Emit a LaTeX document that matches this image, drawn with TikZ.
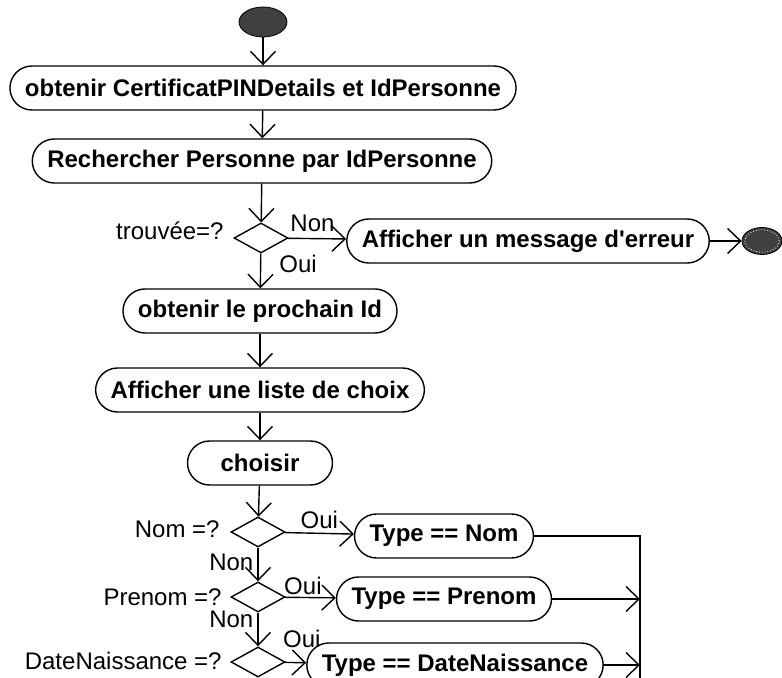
\documentclass[tikz,border=0pt]{standalone}
\usepackage{fontspec}
\setmainfont{Liberation Sans}
\usetikzlibrary{shapes.geometric, arrows.meta}
\tikzset{
action/.style={draw, line width=0.7pt, rounded corners=11pt, minimum height=22pt, inner xsep=7.5pt, font=\bfseries\fontsize{12}{14}\selectfont},
decision/.style={draw, diamond, line width=0.7pt, minimum width=27pt, minimum height=15pt, inner sep=0pt},
startnode/.style={draw, ellipse, fill=black!75, minimum width=24pt, minimum height=15pt, inner sep=0pt},
endnode/.style={draw, ellipse, fill=black!75, minimum width=20pt, minimum height=13.5pt, inner sep=0pt},
lbl/.style={font=\fontsize{12}{14}\selectfont, inner sep=1pt},
flow/.style={line width=0.7pt, -{Straight Barb[length=6.5pt,width=12.5pt]}}
}

\begin{document}
\begin{tikzpicture}[x=0.5pt, y=-0.5pt]
\useasboundingbox (0,0) rectangle (782,678);
\clip (0,0) rectangle (782,678);

\node[startnode] (start) at (263,22) {};
\node[action] (obtenir) at (263,88) {obtenir CertificatPINDetails et IdPersonne};
\node[action] (rechercher) at (262,161) {Rechercher Personne par IdPersonne};
\node[decision] (trouvee) at (261,238) {};
\node[lbl, anchor=east] (ltrouvee) at (226,231) {trouvée=?};
\node[action] (erreur) at (528,241) {Afficher un message d\textquotesingle erreur};
\node[endnode] (fin) at (762,241) {};
\draw[white, densely dotted, line width=0.4pt] (fin.center) ellipse (8.6pt and 5.6pt);
\node[action] (prochain) at (260,311) {obtenir le prochain Id};
\node[action] (liste) at (260,390) {Afficher une liste de choix};
\node[action, minimum width=72.5pt] (choisir) at (260,463) {choisir};

\node[decision] (dnom) at (258,532) {};
\node[decision] (dprenom) at (258,597) {};
\node[decision] (ddate) at (258,662) {};
\node[lbl, anchor=east] (lnom) at (222,529) {Nom =?};
\node[lbl, anchor=east] (lprenom) at (224,597) {Prenom =?};
\node[lbl, anchor=east] (ldate) at (224,661) {DateNaissance =?};
\node[action] (tnom) at (444,536) {Type == Nom};
\node[action] (tprenom) at (444,599) {Type == Prenom};
\node[action] (tdate) at (455,665) {Type == DateNaissance};
\coordinate (bus) at (640,700);

\draw[flow] (start) -- (obtenir);
\draw[flow] (obtenir) -- (rechercher);
\draw[flow] (rechercher) -- (trouvee);
\draw[flow] (trouvee) -- node[lbl, above=2pt, pos=0.42] (lnon) {Non} (erreur);
\draw[flow] (erreur) -- (fin);
\draw[flow] (trouvee) -- node[lbl, right=8pt, pos=0.3] (loui) {Oui} (prochain);
\draw[flow] (prochain) -- (liste);
\draw[flow] (liste) -- (choisir);
\draw[flow] (choisir) -- (dnom);

% choix du type
\draw[flow] (dnom) -- node[lbl, left=1pt, pos=0.45] (lnon1) {Non} (dprenom);
\draw[flow] (dprenom) -- node[lbl, left=1pt, pos=0.2] (lnon2) {Non} (ddate);
\draw[flow] (dnom) -- node[lbl, above=1pt, pos=0.5] (loui1) {Oui} (tnom);
\draw[flow] (dprenom) -- node[lbl, above=0pt, pos=0.35] (loui2) {Oui} (tprenom);
\draw[flow] (ddate) -- node[lbl, above=6pt, pos=0.8] (loui3) {Oui} (tdate);

\draw[line width=0.7pt] (tnom) -| (bus);
\draw[flow] (tprenom) -- (tprenom -| bus);
\draw[flow] (tdate) -- (tdate -| bus);
\end{tikzpicture}
\end{document}
